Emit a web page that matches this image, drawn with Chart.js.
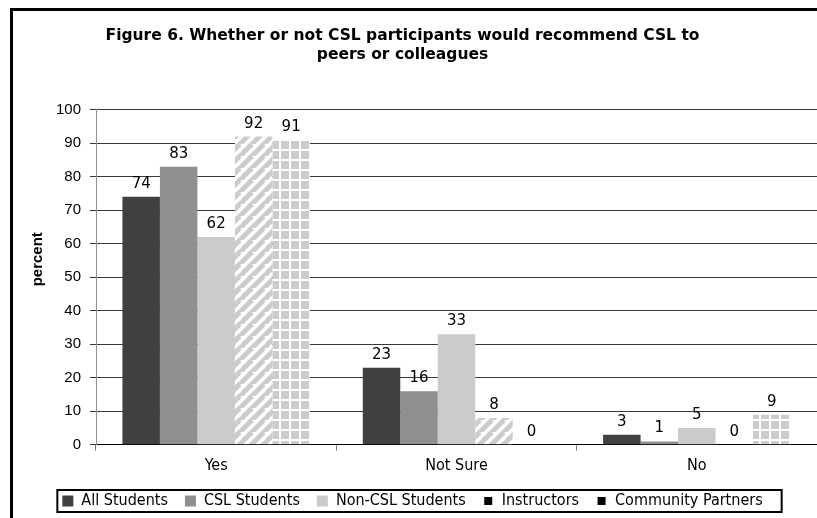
<!DOCTYPE html>
<html>
<head>
<meta charset="utf-8">
<script src="https://cdn.jsdelivr.net/npm/chart.js@4.4.1/dist/chart.umd.min.js"></script>
<style>
  html, body { margin: 0; padding: 0; background: #fff; overflow: hidden; }
  #wrap { position: relative; width: 817px; height: 518px; }
</style>
</head>
<body>
<div id="wrap"><canvas id="fig6"></canvas></div>
<script>
// Figure 6 data
const categories = ['Yes', 'Not Sure', 'No'];
const seriesNames = ['All Students', 'CSL Students', 'Non-CSL Students', 'Instructors', 'Community Partners'];
const allStudents = [74, 23, 3];
const cslStudents = [83, 16, 1];
const nonCslStudents = [62, 33, 5];
const instructors = [92, 8, 0];
const communityPartners = [91, 0, 9];
const yTicks = [0, 10, 20, 30, 40, 50, 60, 70, 80, 90, 100];

const titleLines = ['Figure 6. Whether or not CSL participants would recommend CSL to', 'peers or colleagues'];
const yTitle = 'percent';

// fill patterns for the last two series
function stripePattern() {
  const c = document.createElement('canvas');
  c.width = 12; c.height = 12;
  const g = c.getContext('2d');
  g.fillStyle = '#fff';
  g.fillRect(0, 0, 12, 12);
  g.strokeStyle = '#cccccc';
  g.lineWidth = 5;
  for (let k = -12; k <= 24; k += 12) {
    g.beginPath();
    g.moveTo(k - 12, 24);
    g.lineTo(k + 12, 0);
    g.stroke();
  }
  return g.createPattern(c, 'repeat');
}

function gridPattern() {
  const c = document.createElement('canvas');
  c.width = 10; c.height = 10;
  const g = c.getContext('2d');
  g.fillStyle = '#fff';
  g.fillRect(0, 0, 10, 10);
  g.fillStyle = '#cccccc';
  g.fillRect(1, 1, 8, 8);
  return g.createPattern(c, 'repeat');
}

const fills = ['#404040', '#8f8f8f', '#cbcbcb', stripePattern(), gridPattern()];
const seriesData = [allStudents, cslStudents, nonCslStudents, instructors, communityPartners];

// nudge title / legend, then frame, legend box and the y-axis caption
const framePlugin = {
  id: 'frame',
  afterLayout(chart) {
    if (chart.titleBlock) {
      chart.titleBlock.left -= 6;
      chart.titleBlock.right -= 6;
    }
    if (chart.legend) {
      chart.legend.left += 4;
      chart.legend.right += 4;
      chart.legend.top -= 4;
      chart.legend.bottom -= 4;
    }
  },
  afterDraw(chart) {
    const ctx = chart.ctx;
    const area = chart.chartArea;
    ctx.save();
    ctx.strokeStyle = '#000';
    ctx.lineWidth = 3;
    ctx.beginPath();
    ctx.moveTo(11.5, 530);
    ctx.lineTo(11.5, 9.5);
    ctx.lineTo(830, 9.5);
    ctx.stroke();

    const lg = chart.legend;
    if (lg && lg.legendHitBoxes.length) {
      const boxes = lg.legendHitBoxes;
      const last = boxes[boxes.length - 1];
      const l = boxes[0].left - 5;
      const r = last.left + last.width + 19;
      const t = boxes[0].top - 3;
      const b = boxes[0].top + boxes[0].height + 3;
      ctx.lineWidth = 2;
      ctx.strokeRect(l, t, r - l, b - t);
    }

    // y caption sits a little above the middle of the plot
    ctx.translate(38, (area.top + area.bottom) / 2 - 18);
    ctx.rotate(-Math.PI / 2);
    ctx.font = 'bold 15px "Liberation Sans", Arial';
    ctx.fillStyle = '#000';
    ctx.textAlign = 'center';
    ctx.textBaseline = 'middle';
    ctx.fillText(yTitle, 0, 0);
    ctx.restore();
  }
};

// value labels above each bar
const valuePlugin = {
  id: 'values',
  afterDatasetsDraw(chart) {
    const ctx = chart.ctx;
    ctx.save();
    ctx.font = '15px "DejaVu Sans"';
    ctx.fillStyle = '#000';
    ctx.textAlign = 'center';
    ctx.textBaseline = 'alphabetic';
    chart.data.datasets.forEach((ds, i) => {
      chart.getDatasetMeta(i).data.forEach((bar, j) => {
        ctx.fillText(String(ds.data[j]), bar.x, bar.y - 9);
      });
    });
    ctx.restore();
  }
};

new Chart(document.getElementById('fig6'), {
  type: 'bar',
  data: {
    labels: categories,
    datasets: seriesNames.map((name, i) => ({
      label: name,
      data: seriesData[i],
      backgroundColor: fills[i],
      borderWidth: 0,
      categoryPercentage: 0.78,
      barPercentage: 1.0
    }))
  },
  options: {
    responsive: true,
    maintainAspectRatio: false,
    animation: false,
    layout: { padding: { top: 0, right: 0, bottom: -5, left: 0 } },
    plugins: {
      title: {
        display: true,
        text: titleLines,
        color: '#000',
        font: { family: '"DejaVu Sans"', size: 15.5, weight: 'bold', lineHeight: 1.25 },
        padding: { top: 26, bottom: 45 }
      },
      legend: {
        position: 'bottom',
        labels: {
          color: '#000',
          font: { family: '"DejaVu Sans Condensed", "DejaVu Sans"', size: 16 },
          boxWidth: 11,
          boxHeight: 11,
          padding: 17,
          generateLabels(chart) {
            return chart.data.datasets.map((ds, i) => ({
              text: ds.label,
              fillStyle: i < 3 ? fills[i] : '#000',
              strokeStyle: '#fff',
              lineWidth: i < 3 ? 0 : 3,
              hidden: false,
              datasetIndex: i
            }));
          }
        }
      },
      tooltip: { enabled: false }
    },
    scales: {
      x: {
        grid: { display: true, drawOnChartArea: false, drawTicks: true, tickLength: 6, color: '#808080', offset: true },
        border: { display: true, color: '#000', width: 1 },
        ticks: {
          color: '#000',
          padding: 5,
          font: { family: '"DejaVu Sans Condensed", "DejaVu Sans"', size: 16 }
        }
      },
      y: {
        min: 0,
        max: 100,
        afterBuildTicks(scale) {
          scale.ticks = yTicks.map(v => ({ value: v }));
        },
        afterFit(scale) { scale.width = 96; },
        grid: { color: '#3a3a3a', lineWidth: 1, tickLength: 6, drawTicks: true },
        border: { display: true, color: '#909090', width: 1 },
        ticks: {
          color: '#000',
          padding: 9,
          font: { family: '"Liberation Sans", Arial', size: 15 }
        },
        title: { display: false }
      }
    }
  },
  plugins: [framePlugin, valuePlugin]
});
</script>
</body>
</html>
